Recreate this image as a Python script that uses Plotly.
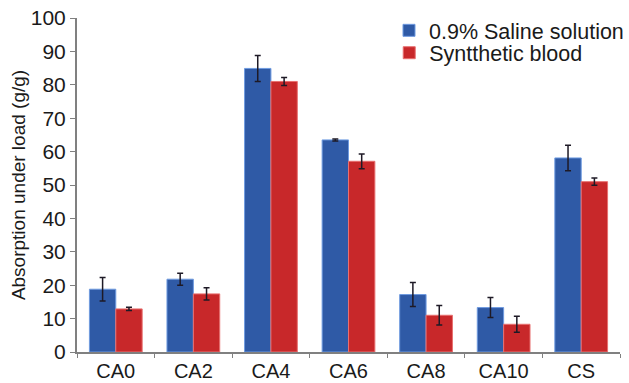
import plotly.graph_objects as go

categories = ["CA0", "CA2", "CA4", "CA6", "CA8", "CA10", "CS"]
saline = [18.8, 21.8, 84.9, 63.5, 17.2, 13.3, 58.1]
saline_err = [3.5, 1.8, 3.9, 0.3, 3.6, 3.0, 3.8]
blood = [12.9, 17.4, 81.0, 57.1, 11.0, 8.3, 51.0]
blood_err = [0.5, 1.8, 1.2, 2.2, 2.9, 2.4, 1.1]

font_family = "Liberation Sans, Arial, sans-serif"

fig = go.Figure()
fig.add_trace(go.Bar(
    name="0.9% Saline solution", x=categories, y=saline, legend="legend",
    marker=dict(color="#2f5aa6", line=dict(color="#6f9be0", width=1)),
    error_y=dict(type="data", array=saline_err, color="#1e1a26", thickness=1.5, width=3),
))
fig.add_trace(go.Bar(
    name="Syntthetic blood", x=categories, y=blood, legend="legend2",
    marker=dict(color="#c8282a", line=dict(color="#e87070", width=1)),
    error_y=dict(type="data", array=blood_err, color="#1e1a26", thickness=1.5, width=3),
))

legend_style = dict(xanchor="left", yanchor="middle",
                    font=dict(size=21.5, color="#1a1a1a"), bgcolor="rgba(0,0,0,0)",
                    itemwidth=30, tracegroupgap=0)

fig.update_layout(
    width=629, height=383,
    margin=dict(l=77, r=0, t=18, b=31),
    paper_bgcolor="white", plot_bgcolor="white",
    barmode="group", bargap=0.32, bargroupgap=0,
    font=dict(family=font_family, color="#1a1a1a"),
    showlegend=True,
    legend=dict(x=0.575, y=0.963, **legend_style),
    legend2=dict(x=0.575, y=0.896, **legend_style),
    xaxis=dict(
        range=[-0.5, 6.5], showline=True, linecolor="#808080", linewidth=2,
        ticks="outside", tickson="boundaries", ticklen=4, tickcolor="#808080",
        tickfont=dict(size=20, color="#1a1a1a"), showgrid=False, automargin=False,
    ),
    yaxis=dict(
        range=[0, 100], dtick=10, showline=True, linecolor="#808080", linewidth=2,
        ticks="outside", ticklen=5, tickcolor="#808080",
        tickfont=dict(size=21, color="#1a1a1a"), showgrid=False, zeroline=False,
        automargin=False,
        title=dict(text="Absorption under load (g/g)", font=dict(size=19, color="#1a1a1a"), standoff=0),
    ),
)

fig.write_html("out.html")
